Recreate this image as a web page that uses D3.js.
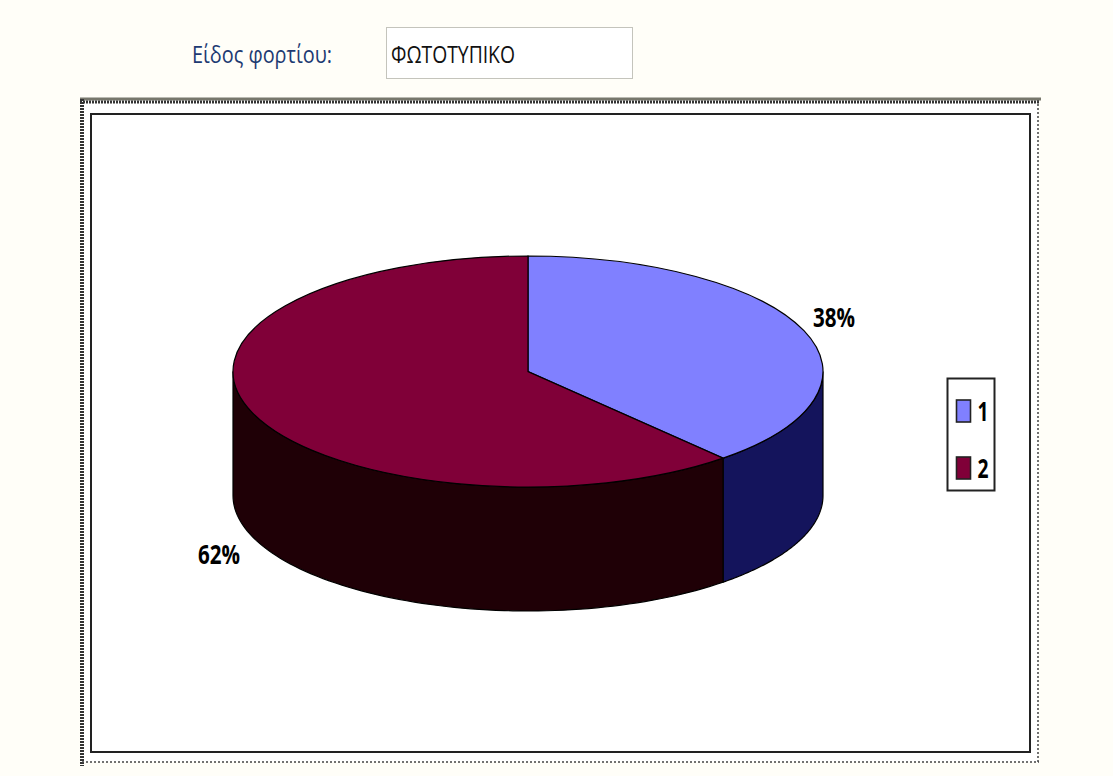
<!DOCTYPE html>
<html><head><meta charset="utf-8">
<script src="https://cdn.jsdelivr.net/npm/d3@7"></script>
<style>html,body{margin:0;padding:0;background:#fffef7}svg{display:block}</style>
</head><body><svg id="c" width="1113" height="776"></svg>
<script>
const categories = ["1", "2"];
const values = [38.5, 61.5];
const percentLabels = ["38%", "62%"];
const topColors = ["#8080ff", "#800038"];
const sideColors = ["#14145c", "#1f0006"];
const fieldLabel = "Είδος φορτίου:";
const fieldValue = "ΦΩΤΟΤΥΠΙΚΟ";

const svg = d3.select("#c");
const W = 1113, H = 776;
svg.append("rect").attr("width", W).attr("height", H).attr("fill", "#fffef8");

// header
svg.append("text").attr("x", 192).attr("y", 63).attr("font-family", "Open Sans")
  .attr("font-size", 24).attr("fill", "#1d3a72").attr("textLength", 140).attr("lengthAdjust", "spacingAndGlyphs").text(fieldLabel);
svg.append("rect").attr("x", 386.5).attr("y", 27.5).attr("width", 246).attr("height", 51)
  .attr("fill", "#fff").attr("stroke", "#c4c4bc");
svg.append("text").attr("x", 391).attr("y", 63).attr("font-family", "Open Sans")
  .attr("font-size", 24).attr("fill", "#111").attr("textLength", 124).attr("lengthAdjust", "spacingAndGlyphs").text(fieldValue);

// frame
svg.append("rect").attr("x", 81).attr("y", 100).attr("width", 957).attr("height", 662).attr("fill", "#fff");
svg.append("line").attr("x1", 80).attr("x2", 1041).attr("y1", 99).attr("y2", 99).attr("stroke", "#77776c").attr("stroke-width", 3);
svg.append("line").attr("x1", 80).attr("x2", 1039).attr("y1", 102).attr("y2", 102).attr("stroke", "#333").attr("stroke-width", 3).attr("stroke-dasharray", "2 1");
svg.append("line").attr("x1", 82).attr("x2", 82).attr("y1", 99).attr("y2", 766).attr("stroke", "#333").attr("stroke-width", 4).attr("stroke-dasharray", "2 1");
svg.append("line").attr("x1", 1038).attr("x2", 1038).attr("y1", 100).attr("y2", 762).attr("stroke", "#444").attr("stroke-width", 1.5).attr("stroke-dasharray", "2 2");
svg.append("line").attr("x1", 82).attr("x2", 1039).attr("y1", 762).attr("y2", 762).attr("stroke", "#444").attr("stroke-width", 1.5).attr("stroke-dasharray", "2 2");
svg.append("rect").attr("x", 91).attr("y", 114).attr("width", 939).attr("height", 638)
  .attr("fill", "#fff").attr("stroke", "#222").attr("stroke-width", 2);

// pie
const cx = 528, cy = 371.5, rx = 295, ry = 115.5, depth = 124;
const arcs = d3.pie().sort(null)(values);
const px = a => cx + rx * Math.sin(a);
const py = a => cy - ry * Math.cos(a);

const side = d3.area().x(px).y0(py).y1(a => py(a) + depth);
const front0 = Math.PI / 2, front1 = 3 * Math.PI / 2;
arcs.forEach((d, i) => {
  const a0 = Math.max(d.startAngle, front0), a1 = Math.min(d.endAngle, front1);
  if (a1 <= a0) return;
  const n = 80, steps = d3.range(n + 1).map(k => a0 + (a1 - a0) * k / n);
  svg.append("path").attr("d", side(steps)).attr("fill", sideColors[i]).attr("stroke", "#000").attr("stroke-width", 1.2);
});
const arc = d3.arc().innerRadius(0).outerRadius(rx);
const g = svg.append("g").attr("transform", `translate(${cx},${cy}) scale(1,${ry / rx})`);
g.selectAll("path").data(arcs).join("path").attr("d", arc)
  .attr("fill", (d, i) => topColors[i]).attr("stroke", "#000").attr("stroke-width", 1.2)
  .attr("vector-effect", "non-scaling-stroke");

// percent labels
const labelPos = [[834, 327], [219, 564]];
percentLabels.forEach((t, i) => {
  svg.append("text").attr("x", labelPos[i][0]).attr("y", labelPos[i][1]).attr("text-anchor", "middle")
    .attr("font-family", "Open Sans").attr("font-weight", 700).attr("font-size", 26).attr("fill", "#000")
    .attr("textLength", 42).attr("lengthAdjust", "spacingAndGlyphs").text(t);
});

// legend
svg.append("rect").attr("x", 947.5).attr("y", 378.5).attr("width", 47).attr("height", 112)
  .attr("fill", "#fff").attr("stroke", "#222").attr("stroke-width", 2);
const legendY = d3.scalePoint().domain(categories).range([411, 468]);
categories.forEach((c, i) => {
  svg.append("rect").attr("x", 956.5).attr("y", legendY(c) - 11).attr("width", 14).attr("height", 22)
    .attr("fill", topColors[i]).attr("stroke", "#222").attr("stroke-width", 1.6);
  svg.append("text").attr("x", 983).attr("y", legendY(c) + 10).attr("text-anchor", "middle")
    .attr("font-family", "Open Sans").attr("font-weight", 700).attr("font-size", 26).attr("fill", "#000")
    .attr("textLength", 11).attr("lengthAdjust", "spacingAndGlyphs").text(c);
});
</script></body></html>
